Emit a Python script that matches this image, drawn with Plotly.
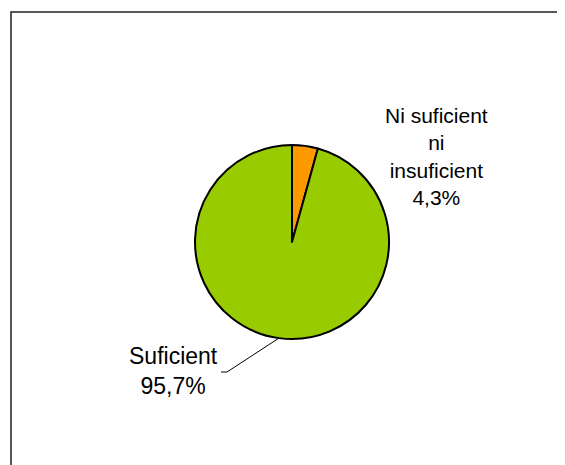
import math
import plotly.graph_objects as go

# Data
labels = ["Ni suficient ni insuficient", "Suficient"]
values = [4.3, 95.7]
label_texts = ["Ni suficient<br>ni<br>insuficient<br>4,3%", "Suficient<br>95,7%"]
colors = ["#FF9900", "#99CC00"]

OFF = 8  # page body margin offset
W, H = 565 - OFF, 465 - OFF
CX, CY, R = 292 - OFF, 242 - OFF, 97  # pie center / radius in px


def px(x):
    return x / W


def py(y):
    return 1 - y / H


fig = go.Figure()
fig.add_trace(go.Pie(
    labels=labels,
    values=values,
    sort=False,
    direction="clockwise",
    rotation=0,
    textinfo="none",
    hoverinfo="label+percent",
    marker=dict(colors=colors, line=dict(color="black", width=2)),
    domain=dict(x=[px(CX - R), px(CX + R)], y=[py(CY + R), py(CY - R)]),
    showlegend=False,
))

fam = "Liberation Sans, Arial, sans-serif"

fig.add_annotation(x=px(436 - OFF), y=py(156 - OFF), xref="paper", yref="paper",
                   text=label_texts[0], showarrow=False,
                   font=dict(family=fam, size=21, color="black"),
                   xanchor="center", yanchor="middle", align="center")
fig.add_annotation(x=px(173 - OFF), y=py(371 - OFF), xref="paper", yref="paper",
                   text=label_texts[1], showarrow=False,
                   font=dict(family=fam, size=23, color="black"),
                   xanchor="center", yanchor="middle", align="center")

# Leader line for "Suficient" from the mid-angle of its slice
total = sum(values)
start = values[0] / total * 360
mid = math.radians(start + values[1] / total * 360 / 2)
ex = CX + R * math.sin(mid)
ey = CY - R * math.cos(mid)
fig.add_shape(type="path",
              path=f"M {px(221 - OFF)} {py(372 - OFF)} L {px(227 - OFF)} {py(372 - OFF)} L {px(ex)} {py(ey)}",
              xref="paper", yref="paper", line=dict(color="black", width=1))

# Chart frame: left and top edges only (the rest lies outside the window)
fig.add_shape(type="path", xref="paper", yref="paper",
              path=f"M {px(11 - OFF)} {py(H + 20)} L {px(11 - OFF)} {py(12 - OFF)} L {px(W + 20)} {py(12 - OFF)}",
              line=dict(color="#222222", width=1.5), layer="below")

fig.update_layout(
    width=W, height=H,
    margin=dict(l=0, r=0, t=0, b=0),
    paper_bgcolor="white",
    plot_bgcolor="white",
)

fig.write_html("out.html")
